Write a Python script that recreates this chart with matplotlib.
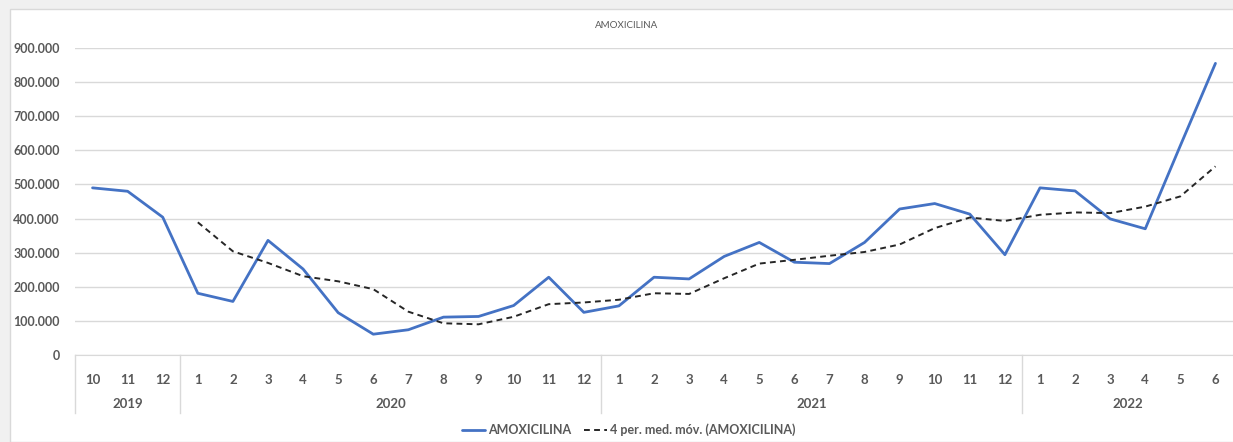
import numpy as np
import matplotlib.pyplot as plt
from matplotlib.patches import Rectangle
from matplotlib.ticker import FuncFormatter

plt.rcParams['font.family'] = ['Lato', 'DejaVu Sans']

# datos (miles de unidades)
months = [10, 11, 12] + list(range(1, 13)) + list(range(1, 13)) + list(range(1, 7))
years = ['2019', '2020', '2021', '2022']
year_sizes = [3, 12, 12, 6]
amoxi = [490, 480, 404, 181, 157, 336, 252, 124, 61, 74, 111, 113, 145, 228, 125,
         144, 228, 223, 289, 330, 272, 268, 330, 428, 444, 413, 294,
         490, 481, 399, 370, 614, 855]
media_movil = [389, 304, 270, 231, 216, 193, 127, 93, 90, 112, 149, 154, 162, 181,
               179, 225, 268, 279, 291, 302, 324, 372, 403, 393, 411, 418, 416,
               435, 465, 553]

gray = '#595959'
grid = '#d9d9d9'

W, H = 1233, 442
fig = plt.figure(figsize=(W / 100, H / 100), dpi=100, facecolor='#f0f0f0')
# area blanca del grafico
fig.patches.append(Rectangle((10 / W, 0), 1, 1 - 9 / H, transform=fig.transFigure,
                             facecolor='white', edgecolor=grid, lw=1, zorder=-10))

ax_top, ax_bot = 48, 355
ax = fig.add_axes([75 / W, 1 - ax_bot / H, 1 - 75 / W, (ax_bot - ax_top) / H])
ax.set_facecolor('none')

x = np.arange(len(amoxi))
ax.plot(x, np.array(amoxi) * 1000, color='#4472C4', lw=2.0, label='AMOXICILINA',
        solid_capstyle='round', zorder=3)
ax.plot(x[3:], np.array(media_movil) * 1000, color='#262626', lw=1.4,
        ls=(0, (3, 2.2)), label='4 per. med. móv. (AMOXICILINA)', zorder=3)

ax.set_xlim(-0.5, len(amoxi) - 0.5)
ax.set_ylim(0, 900000)
ax.set_yticks(np.arange(0, 900001, 100000))
ax.yaxis.set_major_formatter(FuncFormatter(lambda v, p: f'{int(v):,}'.replace(',', '.')))
ax.yaxis.grid(True, color=grid, lw=1)
ax.set_axisbelow(True)
for s in ['top', 'left', 'right']:
    ax.spines[s].set_visible(False)
ax.spines['bottom'].set_color(grid)
ax.tick_params(axis='y', length=0, pad=11, labelsize=9, labelcolor=gray)
for t in ax.get_yticklabels():
    t.set_fontweight('bold')

ax.set_xticks(x)
ax.set_xticklabels([str(m) for m in months], fontsize=9.5, color=gray, fontweight='bold')
ax.tick_params(axis='x', length=0, pad=14)

# etiquetas de anio y separadores
h = ax_bot - ax_top
tr = ax.get_xaxis_transform()
start = 0
for yr, n in zip(years, year_sizes):
    ax.plot([start - 0.5, start - 0.5], [0, -(413 - ax_bot) / h], color=grid, lw=1,
            transform=tr, clip_on=False)
    ax.text(start + (n - 1) / 2, -(404 - ax_bot) / h, yr, transform=tr, ha='center',
            va='center', fontsize=9.5, color=gray, fontweight='bold')
    start += n

fig.text(627 / W, 1 - 25 / H, 'AMOXICILINA', ha='center', va='center', fontsize=7,
         color=gray)

leg = fig.legend(loc='center', bbox_to_anchor=(629 / W, 1 - 430 / H), ncol=2,
                 frameon=False, fontsize=9, handlelength=1.8, handletextpad=0.3,
                 columnspacing=1.0)
for t in leg.get_texts():
    t.set_color(gray)
    t.set_fontweight('bold')

fig.savefig('out.png', dpi=100, facecolor=fig.get_facecolor())
